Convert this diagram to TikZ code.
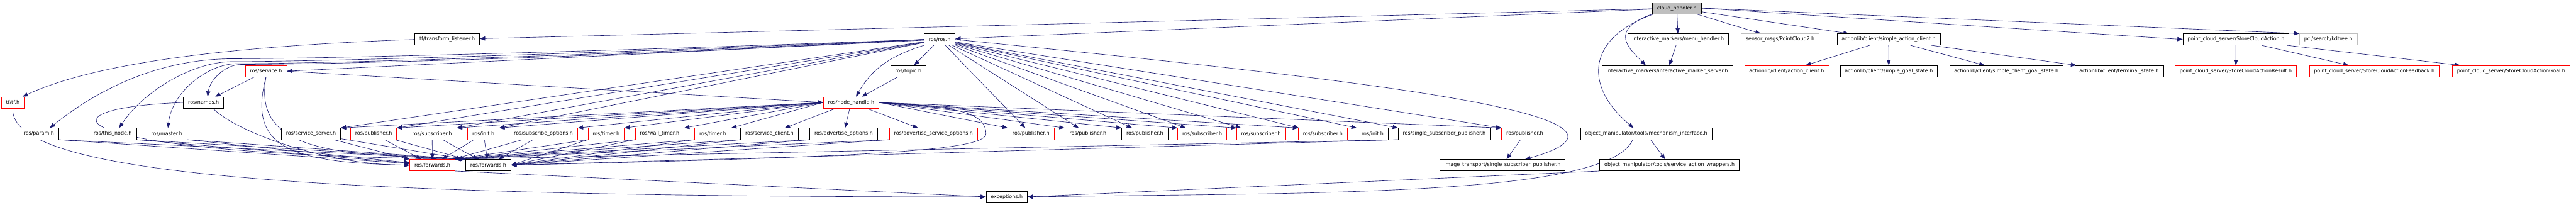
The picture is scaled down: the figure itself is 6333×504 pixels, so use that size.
\documentclass[tikz,border=0pt]{standalone}
\usepackage{fontspec}
\setmainfont{DejaVu Sans}
\usetikzlibrary{arrows.meta,backgrounds}
\definecolor{igEdge}{HTML}{191970}
\definecolor{igRed}{HTML}{FF0000}
\definecolor{igGray}{HTML}{BFBFBF}
\tikzset{
  hf/.style={draw=black, fill=white, line width=1pt, inner xsep=11.5pt, inner ysep=0pt,
    minimum height=28pt, font=\fontsize{12.3}{14}\selectfont},
  hred/.style={hf, draw=igRed},
  hsys/.style={hf, draw=igGray},
  hroot/.style={hf, fill=igGray},
  dep/.style={draw=igEdge, line width=1pt, -{Triangle[length=13pt,width=10pt]}},
}

\begin{document}
\begin{tikzpicture}[x=1pt,y=1pt]
\path[use as bounding box] (0,0) rectangle (6333,-504);
% --- row 0
\node[hroot] (ch) at (4122.5,-20) {cloud\_handler.h};
% --- row 1
\node[hf] (tflis) at (1099.5,-97) {tf/transform\_listener.h};
\node[hf] (rosros) at (2310,-97) {ros/ros.h};
\node[hf] (menuh) at (4125.5,-97) {interactive\_markers/menu\_handler.h};
\node[hsys] (pc2) at (4376.5,-97) {sensor\_msgs/PointCloud2.h};
\node[hf] (sac) at (4643,-97) {actionlib/client/simple\_action\_client.h};
\node[hf] (sca) at (5497,-97) {point\_cloud\_server/StoreCloudAction.h};
\node[hsys] (kdtree) at (5724,-97) {pcl/search/kdtree.h};
% --- row 2
\node[hred] (service) at (654,-175) {ros/service.h};
\node[hf] (topic) at (2233,-175) {ros/topic.h};
\node[hf] (imserver) at (4099,-175) {interactive\_markers/interactive\_marker\_server.h};
\node[hred] (actcl) at (4392.5,-175) {actionlib/client/action\_client.h};
\node[hf] (sgs) at (4643.5,-175) {actionlib/client/simple\_goal\_state.h};
\node[hf] (scgs) at (4932.5,-175) {actionlib/client/simple\_client\_goal\_state.h};
\node[hf] (term) at (5209.5,-175) {actionlib/client/terminal\_state.h};
\node[hred] (scar) at (5496.5,-175) {point\_cloud\_server/StoreCloudActionResult.h};
\node[hred] (scaf) at (5837,-175) {point\_cloud\_server/StoreCloudActionFeedback.h};
\node[hred] (scag) at (6173.5,-175) {point\_cloud\_server/StoreCloudActionGoal.h};
% --- row 3
\node[hred] (tftf) at (31.5,-252) {tf/tf.h};
\node[hf] (names) at (500.5,-252) {ros/names.h};
\node[hred] (nh) at (2092.5,-252) {ros/node\_handle.h};
% --- row 4
\node[hf] (param) at (95.5,-329) {ros/param.h};
\node[hf] (thisnode) at (277,-329) {ros/this\_node.h};
\node[hf] (master) at (410,-329) {ros/master.h};
\node[hf] (srvsrv) at (764.5,-329) {ros/service\_server.h};
\node[hred] (pubA) at (918.5,-329) {ros/publisher.h};
\node[hred] (subA) at (1062.5,-329) {ros/subscriber.h};
\node[hred] (initA) at (1188.5,-329) {ros/init.h};
\node[hred] (subopt) at (1336,-329) {ros/subscribe\_options.h};
\node[hred] (timerA) at (1490,-329) {ros/timer.h};
\node[hred] (wtimer) at (1621.5,-329) {ros/wall\_timer.h};
\node[hred] (timerB) at (1752.5,-329) {ros/timer.h};
\node[hf] (srvcl) at (1891.5,-329) {ros/service\_client.h};
\node[hf] (advopt) at (2074,-329) {ros/advertise\_options.h};
\node[hred] (advsrv) at (2295,-329) {ros/advertise\_service\_options.h};
\node[hred] (pubB) at (2534.5,-329) {ros/publisher.h};
\node[hred] (pubC) at (2674.5,-329) {ros/publisher.h};
\node[hf] (pubD) at (2814.5,-329) {ros/publisher.h};
\node[hred] (subB) at (2955.5,-329) {ros/subscriber.h};
\node[hred] (subC) at (3100,-329) {ros/subscriber.h};
\node[hred] (subD) at (3252,-329) {ros/subscriber.h};
\node[hf] (initB) at (3374.5,-329) {ros/init.h};
\node[hf] (ssp) at (3550.5,-329) {ros/single\_subscriber\_publisher.h};
\node[hred] (pubE) at (3748.5,-329) {ros/publisher.h};
\node[hf] (mech) at (4047,-329) {object\_manipulator/tools/mechanism\_interface.h};
% --- row 5 and 6
\node[hred] (fwdA) at (1063,-406) {ros/forwards.h};
\node[hf] (fwdB) at (1200.5,-406) {ros/forwards.h};
\node[hf] (itssp) at (3693.5,-406) {image\_transport/single\_subscriber\_publisher.h};
\node[hf] (wrap) at (4104.5,-406) {object\_manipulator/tools/service\_action\_wrappers.h};
\node[hf] (exc) at (2475,-484) {exceptions.h};

\begin{scope}[on background layer]
% --- cloud_handler.h
\draw[dep] (ch) -- (tflis);
\draw[dep] (ch) -- (rosros);
\draw[dep] (ch) -- (menuh);
\draw[dep] (ch) -- (pc2);
\draw[dep] (ch) -- (sac);
\draw[dep] (ch.east) -- (sca.west);
\draw[dep] (ch.east) -- (kdtree.north west);
\draw[dep] (ch.south west) .. controls +(-110,-40) and +(-40,40) .. ([xshift=-53]imserver.north);
\draw[dep] ([xshift=4]ch.south west) .. controls +(-170,-60) and +(-120,100) .. ([xshift=-31]mech.north);
\draw[dep] (menuh) -- (imserver);
\foreach \t in {actcl,sgs,scgs,term} \draw[dep] (sac) -- (\t);
\foreach \t in {scar,scaf,scag} \draw[dep] (sca) -- (\t);
\draw[dep] (mech) -- (wrap);
\draw[dep] ([xshift=-33]mech.south) .. controls +(-60,-140) and +(700,10) .. (exc.east);
\draw[dep] (wrap.south west) -- (exc.east);
% --- tf
\draw[dep] (tflis.west) .. controls +(-420,-15) and +(190,88) .. ([xshift=24]tftf.north);
\draw[dep] (tftf.south) .. controls +(-10,-160) and +(-1700,0) .. (exc.west);
\draw[dep] (fwdA.south east) -- (exc.west);
% --- ros/ros.h
\draw[dep] (rosros) -- (topic);
\draw[dep] (topic) -- (nh);
\draw[dep] (rosros.south west) .. controls +(-80,-25) and +(40,70) .. ([xshift=12]nh.north);
\draw[dep] (rosros) -- (service.east);
\draw[dep] (rosros.west) .. controls +(-800,-30) and +(200,0) .. ([shift={(-30,16)}]service.north west)
  .. controls +(-200,0) and +(100,80) .. ([xshift=27]param.north);
\draw[dep] (rosros.west) .. controls +(-800,-35) and +(200,0) .. ([shift={(-30,9)}]service.north west)
  .. controls +(-100,0) and +(60,90) .. ([xshift=16]thisnode.north);
\draw[dep] (rosros.west) .. controls +(-800,-40) and +(200,0) .. ([shift={(-20,4)}]service.north west)
  .. controls +(-70,0) and +(10,90) .. ([xshift=3]master.north);
\draw[dep] (rosros.west) .. controls +(-800,-45) and +(200,0) .. ([shift={(-10,2)}]service.north west)
  .. controls +(-40,0) and +(5,40) .. ([xshift=10]names.north);
\foreach \t in {srvsrv,pubA,subA,initA} \draw[dep] (rosros) -- (\t.north east);
\foreach \t in {pubB,pubC,pubD,subB,subC,subD} \draw[dep] (rosros) -- (\t);
\foreach \t in {initB,ssp,pubE} \draw[dep] (rosros) -- (\t.north west);
\draw[dep] (rosros.east) .. controls +(900,-90) and +(401,112) .. ([xshift=56]itssp.north);
\draw[dep] (pubE) -- (itssp);
% --- ros/service.h, ros/names.h
\draw[dep] (service) -- (names);
\draw[dep] (service.east) -- (nh.west);
\draw[dep] (service.south) .. controls +(-45,-170) and +(-300,6) .. (fwdA.west);
\draw[dep] (service.south) .. controls +(-35,-190) and +(-300,12) .. (fwdB.north west);
\draw[dep] ([xshift=-27]names.south east) .. controls +(60,-60) and +(-200,0) .. (fwdA.west);
\draw[dep] (names.west) .. controls +(-386,-15) and +(-995,12) .. (fwdB.north west);
% --- ros/node_handle.h
\foreach \t in {srvsrv,pubA,subA,initA,subopt,timerA,wtimer,timerB} \draw[dep] (nh.west) -- (\t.north east);
\foreach \t in {srvcl,advopt,advsrv} \draw[dep] (nh) -- (\t);
\foreach \t in {pubB,pubC,pubD,subB,subC,subD,pubE} \draw[dep] (nh.east) -- (\t.north west);
\draw[dep] (nh.east) .. controls +(200,-10) and +(0,50) .. ([xshift=20]advsrv.east)
  .. controls +(0,-40) and +(900,20) .. (fwdB.east);
% --- into ros/forwards.h
\foreach \s in {param,thisnode,master}{
  \draw[dep] (\s.south east) -- (fwdA);
  \draw[dep] (\s.south east) -- (fwdB.north west);
}
\foreach \s in {srvsrv,pubA}{
  \draw[dep] (\s) -- (fwdA);
  \draw[dep] (\s) -- (fwdB.north west);
}
\foreach \s in {subA,initA,subopt}{
  \draw[dep] (\s) -- (fwdA);
  \draw[dep] (\s) -- (fwdB);
}
\foreach \s in {timerA,wtimer,timerB,srvcl,advopt,advsrv,ssp}{
  \draw[dep] (\s.south west) -- (fwdA.north east);
  \draw[dep] (\s.south west) -- (fwdB.east);
}
\end{scope}
\end{tikzpicture}
\end{document}
